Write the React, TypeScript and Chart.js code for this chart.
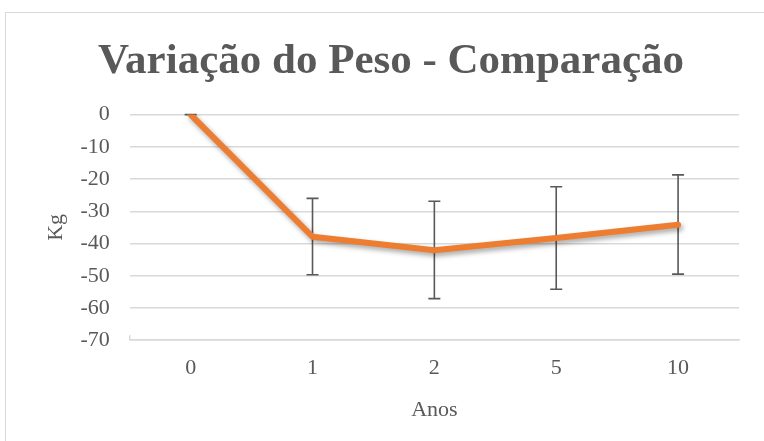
import React, { useEffect, useRef } from "react";
import { Chart, registerables } from "chart.js";

Chart.register(...registerables);

const categories = ["0", "1", "2", "5", "10"];
const meanValues = [0, -37.9, -42.1, -38.3, -34.2];
const errorUpper = [0, 11.9, 15.2, 15.9, 15.5];
const errorLower = [0, 11.8, 15.0, 15.9, 15.3];
const titleText = "Variação do Peso - Comparação";
const yTitle = "Kg";
const xTitle = "Anos";

const FONT = "'Liberation Serif', 'Times New Roman', serif";
const GRAY = "#595959";

const errorBarPlugin = {
  id: "errorBars",
  beforeDatasetsDraw(chart: any) {
    const { ctx, scales, chartArea } = chart;
    const xs = scales.x;
    const ys = scales.y;
    ctx.save();
    ctx.strokeStyle = "#D9D9D9";
    ctx.lineWidth = 1.5;
    ctx.beginPath();
    ctx.moveTo(chartArea.left, chartArea.bottom);
    ctx.lineTo(chartArea.left, chartArea.bottom - 5);
    ctx.stroke();
    ctx.strokeStyle = GRAY;
    ctx.lineWidth = 1.6;
    categories.forEach((_, i) => {
      const x = xs.getPixelForValue(i);
      const yTop = ys.getPixelForValue(meanValues[i] + errorUpper[i]);
      const yBot = ys.getPixelForValue(meanValues[i] - errorLower[i]);
      const half = 6;
      ctx.beginPath();
      ctx.moveTo(x, yTop);
      ctx.lineTo(x, yBot);
      ctx.moveTo(x - half, yTop);
      ctx.lineTo(x + half, yTop);
      ctx.moveTo(x - half, yBot);
      ctx.lineTo(x + half, yBot);
      ctx.stroke();
    });
    ctx.restore();
  },
  beforeDatasetDraw(chart: any) {
    const ctx = chart.ctx;
    ctx.save();
    ctx.shadowColor = "rgba(0,0,0,0.35)";
    ctx.shadowBlur = 5;
    ctx.shadowOffsetX = 2;
    ctx.shadowOffsetY = 3;
  },
  afterDatasetDraw(chart: any) {
    chart.ctx.restore();
  },
};

export default function App() {
  const ref = useRef<HTMLCanvasElement | null>(null);
  useEffect(() => {
    if (!ref.current) return;
    const chart = new Chart(ref.current, {
      type: "line",
      data: {
        labels: categories,
        datasets: [
          {
            data: meanValues,
            borderColor: "#ED7D31",
            backgroundColor: "#ED7D31",
            borderWidth: 6,
            pointRadius: 0,
            tension: 0,
            borderCapStyle: "round",
            borderJoinStyle: "round",
          },
        ],
      },
      options: {
        animation: false,
        responsive: true,
        maintainAspectRatio: false,
        layout: { padding: { left: 37, right: 25, top: 0, bottom: 19 } },
        plugins: {
          legend: { display: false },
          tooltip: { enabled: false },
          title: {
            display: true,
            text: titleText,
            color: GRAY,
            font: { family: FONT, size: 43, weight: "bold" },
            padding: { top: 23, bottom: 27 },
          },
        },
        scales: {
          x: {
            offset: true,
            grid: { display: false, drawTicks: false },
            border: { display: true, color: "#D9D9D9", width: 1.5 },
            ticks: { color: GRAY, font: { family: FONT, size: 22 }, padding: 15 },
            title: {
              display: true,
              text: xTitle,
              color: GRAY,
              font: { family: FONT, size: 22 },
              padding: { top: 0, bottom: 0 },
            },
          },
          y: {
            min: -70,
            max: 0,
            grid: { color: "#D9D9D9", lineWidth: 1.5, drawTicks: false },
            border: { display: false },
            ticks: { stepSize: 10, color: GRAY, font: { family: FONT, size: 22 }, padding: 20 },
            title: {
              display: true,
              text: yTitle,
              color: GRAY,
              font: { family: FONT, size: 22 },
              padding: { top: 0, bottom: -9 },
            },
          },
        },
      },
      plugins: [errorBarPlugin],
    });
    return () => chart.destroy();
  }, []);

  return (
    <div
      style={{
        position: "absolute",
        left: 5,
        top: 12,
        width: 780,
        height: 450,
        borderTop: "1.5px solid #D9D9D9",
        borderLeft: "1.5px solid #D9D9D9",
        background: "#fff",
      }}
    >
      <div style={{ position: "relative", width: 758, height: 429 }}>
        <canvas ref={ref} />
      </div>
    </div>
  );
}
